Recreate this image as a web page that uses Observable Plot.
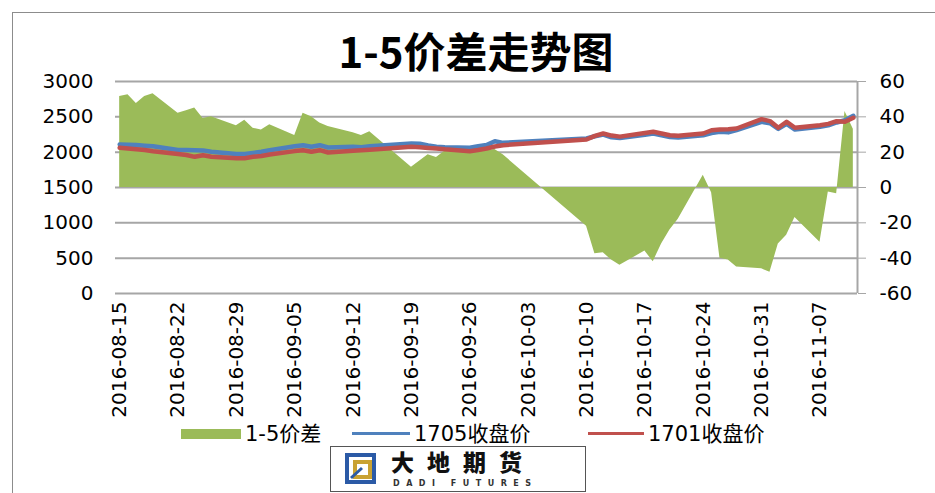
<!DOCTYPE html>
<html><head><meta charset="utf-8">
<script src="https://cdn.jsdelivr.net/npm/d3@7"></script>
<script src="https://cdn.jsdelivr.net/npm/@observablehq/plot@0.6"></script>
<style>
body{margin:0;background:#fff;}
#wrap{position:relative;width:935px;height:493px;overflow:hidden;background:#fff;font-family:"DejaVu Sans","Noto Sans CJK SC",sans-serif;}
#frame{position:absolute;left:12px;top:12px;width:940px;height:500px;border-left:1px solid #8c8c8c;border-top:1px solid #8c8c8c;}
#title{position:absolute;left:0;width:952px;top:23px;text-align:center;font-family:"Noto Sans CJK SC",sans-serif;font-weight:700;font-size:42px;line-height:54px;color:#000;}
#chart{position:absolute;left:0;top:0;}
.lg{position:absolute;font-size:21px;line-height:22px;color:#000;font-family:"DejaVu Sans","Noto Sans CJK SC",sans-serif;white-space:nowrap;}
#logo{position:absolute;left:330px;top:446px;width:254px;height:44px;border:1.5px solid #555;background:#fff;}
</style></head>
<body>
<div id="wrap">
<div id="frame"></div>
<div id="chart"></div>
<div id="title">1-5价差走势图</div>
<div id="legend"></div>
<div id="logo">
  <svg width="254" height="44" style="position:absolute;left:0;top:0">
    <rect x="16" y="8" width="27" height="27" fill="none" stroke="#2b5aa6" stroke-width="4"/>
    <path d="M24 15 h15 v15 h-15 z" fill="none" stroke="#c9a233" stroke-width="4"/>
    <path d="M20 31 L31 21" stroke="#2b5aa6" stroke-width="3"/>
  </svg>
  <div style="position:absolute;left:60px;top:1px;font-family:'Noto Sans CJK SC';font-weight:900;font-size:23px;line-height:26px;letter-spacing:13px;color:#111;">大地期货</div>
  <div style="position:absolute;left:62px;top:32px;font-family:'DejaVu Sans';font-weight:700;font-size:8px;line-height:9px;letter-spacing:6.5px;color:#333;">DADI FUTURES</div>
</div>
</div>
<script>
const dates = ["2016-08-15","2016-08-16","2016-08-17","2016-08-18","2016-08-19","2016-08-22","2016-08-23","2016-08-24","2016-08-25","2016-08-26","2016-08-29","2016-08-30","2016-08-31","2016-09-01","2016-09-02","2016-09-05","2016-09-06","2016-09-07","2016-09-08","2016-09-09","2016-09-12","2016-09-13","2016-09-14","2016-09-19","2016-09-20","2016-09-21","2016-09-22","2016-09-23","2016-09-26","2016-09-27","2016-09-28","2016-09-29","2016-09-30","2016-10-10","2016-10-11","2016-10-12","2016-10-13","2016-10-14","2016-10-17","2016-10-18","2016-10-19","2016-10-20","2016-10-21","2016-10-24","2016-10-25","2016-10-26","2016-10-27","2016-10-28","2016-10-31","2016-11-01","2016-11-02","2016-11-03","2016-11-04","2016-11-07","2016-11-08","2016-11-09","2016-11-10","2016-11-11"];
const spread = [51.5,52.5,47.5,51.5,53,42,43.5,45,39,40,35,38,33.5,32.5,35.5,29.5,42,40,36.5,34.5,31,29.5,31.5,11.5,15,18.5,17,20.5,20,20,21,21.5,18.5,-22,-37.5,-37,-41,-44,-36,-42,-32,-24,-18,7,-3,-40,-41,-45,-46,-48,-32,-27,-17,-31,-2.5,-3.5,43,33];
const p1705 = [2108,2105,2100,2092,2085,2030,2030,2028,2025,2005,1975,1975,1990,2005,2028,2085,2099,2076,2099,2066,2076,2070,2085,2122,2120,2095,2076,2070,2062,2085,2100,2155,2132,2193,2225,2250,2210,2200,2245,2264,2240,2215,2207,2240,2270,2288,2280,2311,2430,2410,2330,2400,2320,2359,2380,2420,2452,2514];
const p1701 = [2062,2052,2042,2030,2014,1975,1960,1934,1957,1935,1915,1915,1934,1945,1967,2015,2028,2005,2028,1995,2020,2028,2035,2076,2070,2060,2052,2040,2014,2030,2052,2080,2099,2179,2230,2264,2235,2220,2270,2288,2265,2240,2231,2264,2310,2321,2325,2335,2467,2440,2345,2430,2345,2382,2400,2439,2430,2486];
const tickLabels = ["2016-08-15","2016-08-22","2016-08-29","2016-09-05","2016-09-12","2016-09-19","2016-09-26","2016-10-03","2016-10-10","2016-10-17","2016-10-24","2016-10-31","2016-11-07"];
const leftTicks = [0,500,1000,1500,2000,2500,3000];
const rightTicks = [-60,-40,-20,0,20,40,60];
const legendNames = ["1-5价差","1705收盘价","1701收盘价"];
const colors = ["#9BBB59","#4F81BD","#C0504D"];

const parse = d3.utcParse("%Y-%m-%d");
const rows = dates.map((d,i)=>({date:parse(d), spread:spread[i], p1705:p1705[i], p1701:p1701[i]}));
// right axis (-60..60) mapped onto left scale (0..3000)
const toLeft = v => (v + 60) * 3000 / 120;
const fromLeft = v => v * 120 / 3000 - 60;
const half = 12*3600*1000;
const x0 = new Date(rows[0].date.getTime() - half);
const x1 = new Date(rows[rows.length-1].date.getTime() + half);

const chart = Plot.plot({
  width: 935, height: 420,
  marginLeft: 115, marginRight: 78, marginTop: 81, marginBottom: 127,
  x: {type: "utc", domain: [x0, x1]},
  y: {domain: [0, 3000]},
  style: {fontFamily: "DejaVu Sans", fontSize: "20px", color: "#000", background: "transparent"},
  marks: [
    Plot.gridY(leftTicks, {stroke: "#a6a6a6", strokeOpacity: 1, strokeWidth: 2}),
    Plot.areaY(rows, {x: "date", y1: () => toLeft(0), y2: d => toLeft(d.spread), fill: colors[0]}),
    Plot.lineY(rows, {x: "date", y: "p1705", stroke: colors[1], strokeWidth: 4.5}),
    Plot.lineY(rows, {x: "date", y: "p1701", stroke: colors[2], strokeWidth: 4.5}),
    Plot.ruleX([x1], {stroke: "#a6a6a6", strokeWidth: 2}),
    Plot.axisY(leftTicks, {anchor: "left", tickSize: 0, tickPadding: 22, tickFormat: d => String(d)}),
    Plot.axisY(rightTicks.map(toLeft), {anchor: "right", tickSize: 8, tickPadding: 14, stroke: "#a6a6a6", tickFormat: d => String(Math.round(fromLeft(d)))}),
    Plot.axisX(tickLabels.map(parse), {anchor: "bottom", tickSize: 0, tickPadding: 8, tickRotate: -90, tickFormat: d3.utcFormat("%Y-%m-%d")})
  ]
});
document.getElementById("chart").appendChild(chart);

// legend
const wrap = document.getElementById("wrap");
const items = [
  {kind:"rect", x:181, w:60, text:legendNames[0], tx:245, c:colors[0]},
  {kind:"line", x:352, w:58, text:legendNames[1], tx:414, c:colors[1]},
  {kind:"line", x:588, w:56, text:legendNames[2], tx:648, c:colors[2]}
];
items.forEach(it=>{
  const s = document.createElement("div");
  s.style.position="absolute"; s.style.left=it.x+"px"; s.style.width=it.w+"px";
  if(it.kind==="rect"){ s.style.top="429px"; s.style.height="10px"; }
  else { s.style.top="432px"; s.style.height="3px"; }
  s.style.background=it.c;
  wrap.appendChild(s);
  const t = document.createElement("div");
  t.className="lg"; t.style.left=it.tx+"px"; t.style.top="423px"; t.textContent=it.text;
  wrap.appendChild(t);
});
</script>
</body></html>
